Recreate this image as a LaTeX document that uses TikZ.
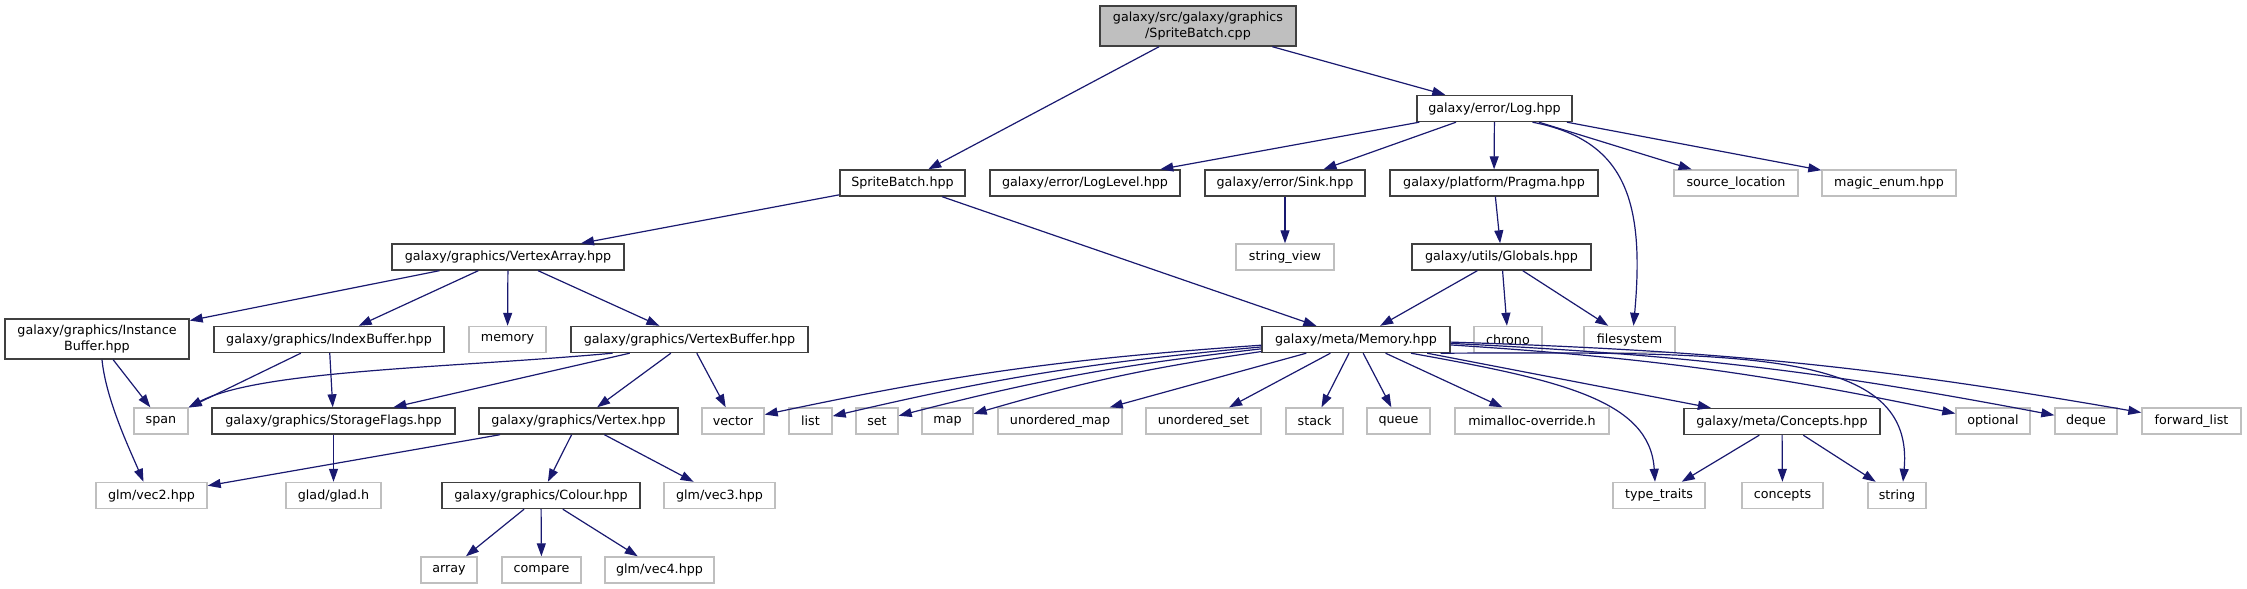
\documentclass[tikz,border=0pt]{standalone}
\usepackage{fontspec}
\setmainfont{DejaVu Sans}
\usepackage{xcolor}
\usetikzlibrary{arrows.meta, positioning}

\definecolor{edgeblue}{HTML}{191970}
\tikzset{
    hdr/.style={draw=black!75, line width=1.4pt, fill=white, minimum height=26pt,
        inner sep=0pt, font=\fontsize{12.7}{15.5}\selectfont},
    sys/.style={hdr, draw=black!25},
    root/.style={hdr, fill=black!25},
    dep/.style={->, draw=edgeblue, line width=1.2pt},
}

\begin{document}
\begin{tikzpicture}[x=1pt, y=-1pt, >={Triangle[length=13pt, width=9pt]}]
    \useasboundingbox (0,0) rectangle (2247,589);

    % Tệp gốc
    \node[root, minimum width=196, minimum height=40, align=center] (cpp) at (1198,26)
        {galaxy/src/galaxy/graphics\\/SpriteBatch.cpp};
    \node[hdr, minimum width=155] (log) at (1494.5,108.5) {galaxy/error/Log.hpp};

    % Hàng 3
    \node[hdr, minimum width=125] (sbhpp) at (902.5,183) {SpriteBatch.hpp};
    \node[hdr, minimum width=190] (loglevel) at (1085,183) {galaxy/error/LogLevel.hpp};
    \node[hdr, minimum width=160] (sink) at (1285,183) {galaxy/error/Sink.hpp};
    \node[hdr, minimum width=208] (pragma) at (1494,183) {galaxy/platform/Pragma.hpp};
    \node[sys, minimum width=124] (srcloc) at (1736,183) {source\_location};
    \node[sys, minimum width=134] (magic) at (1889,183) {magic\_enum.hpp};

    % Hàng 4
    \node[hdr, minimum width=232] (varray) at (508,257) {galaxy/graphics/VertexArray.hpp};
    \node[sys, minimum width=98] (strview) at (1285,257) {string\_view};
    \node[hdr, minimum width=179] (globals) at (1501.5,257) {galaxy/utils/Globals.hpp};

    % Hàng 5
    \node[hdr, minimum width=184, minimum height=40, align=center] (instbuf) at (97,339)
        {galaxy/graphics/Instance\\Buffer.hpp};
    \node[hdr, minimum width=230] (idxbuf) at (329,339.5) {galaxy/graphics/IndexBuffer.hpp};
    \node[sys, minimum width=77] (memory) at (507.5,339.5) {memory};
    \node[hdr, minimum width=237] (vbuf) at (689.5,339.5) {galaxy/graphics/VertexBuffer.hpp};
    \node[hdr, minimum width=188] (memhpp) at (1356,339.5) {galaxy/meta/Memory.hpp};
    \node[sys, minimum width=68] (chrono) at (1508,339.5) {chrono};
    \node[sys, minimum width=91] (fsys) at (1629.5,339.5) {filesystem};

    % Hàng 6
    \node[sys, minimum width=54] (span) at (161,421) {span};
    \node[hdr, minimum width=243] (storage) at (333.5,421) {galaxy/graphics/StorageFlags.hpp};
    \node[hdr, minimum width=199] (vertex) at (578.5,421) {galaxy/graphics/Vertex.hpp};
    \foreach \n/\x/\w/\t in {vector/733/62/vector, list/810.5/43/list, set/877/42/set,
        map/947.5/51/map, umap/1060/124/unordered\_map, uset/1203.5/115/unordered\_set,
        stack/1314.5/57/stack, queue/1398.5/63/queue, mimalloc/1532/154/mimalloc-override.h,
        optional/1993/74/optional, deque/2086/62/deque, fwdlist/2191.5/99/forward\_list} {
        \node[sys, minimum width=\w] (\n) at (\x,421) {\t};
    }
    \node[hdr, minimum width=196] (concepthpp) at (1782,421.5) {galaxy/meta/Concepts.hpp};

    % Hàng 7
    \node[sys, minimum width=111] (vec2) at (151.5,495.5) {glm/vec2.hpp};
    \node[sys, minimum width=95] (glad) at (333.5,495.5) {glad/glad.h};
    \node[hdr, minimum width=198] (colour) at (541,495.5) {galaxy/graphics/Colour.hpp};
    \node[sys, minimum width=111] (vec3) at (719.5,495.5) {glm/vec3.hpp};
    \node[sys, minimum width=92] (traits) at (1659,495.5) {type\_traits};
    \node[sys, minimum width=81] (concepts) at (1782.5,495.5) {concepts};
    \node[sys, minimum width=58] (string) at (1897,495.5) {string};

    % Hàng 8
    \node[sys, minimum width=56] (array) at (449,570) {array};
    \node[sys, minimum width=79] (compare) at (541.5,570) {compare};
    \node[sys, minimum width=109] (vec4) at (659.5,570) {glm/vec4.hpp};

    % Các cạnh phụ thuộc
    \draw[dep] (cpp) -- (sbhpp);
    \draw[dep] (cpp) -- (log);
    \foreach \n in {loglevel,sink,pragma,srcloc,magic} {
        \draw[dep] (log) -- (\n);
    }
    \draw[dep] ([xshift=38]log.south) .. controls (1625,140) and (1645,200) .. ([xshift=4]fsys.north);
    \draw[dep] (sbhpp) -- (varray);
    \draw[dep] (sbhpp) -- (memhpp);
    \draw[dep] (sink) -- (strview);
    \draw[dep] (pragma) -- (globals);
    \foreach \n in {memhpp,chrono,fsys} {
        \draw[dep] (globals) -- (\n);
    }
    \foreach \n in {instbuf,idxbuf,memory,vbuf} {
        \draw[dep] (varray) -- (\n);
    }
    \draw[dep] (instbuf) -- (span);
    \draw[dep] ([xshift=5]instbuf.south) .. controls (106,400) and (130,450) .. ([xshift=-8]vec2.north);
    \draw[dep] (idxbuf) -- (span);
    \draw[dep] (idxbuf) -- (storage);
    \draw[dep] ([xshift=-77]vbuf.south) .. controls (450,368) and (260,370) .. (span.north east);
    \foreach \n in {storage,vertex,vector} {
        \draw[dep] (vbuf) -- (\n);
    }

    % Memory.hpp
    \foreach \n in {vector,list,set,map} {
        \draw[dep] (memhpp) to[bend right=4] (\n);
    }
    \foreach \n in {umap,uset,stack,queue,mimalloc,concepthpp} {
        \draw[dep] (memhpp) -- (\n);
    }
    \foreach \n in {optional,deque,fwdlist} {
        \draw[dep] (memhpp) to[bend left=4] (\n);
    }
    \draw[dep] ([xshift=55]memhpp.south) .. controls (1560,380) and (1650,400) .. ([xshift=-4]traits.north);
    \draw[dep] ([xshift=-10]memhpp.south east) .. controls (1750,352) and (1915,350) .. ([xshift=6]string.north);

    \draw[dep] (storage) -- (glad);
    \foreach \n in {vec2,colour,vec3} {
        \draw[dep] (vertex) -- (\n);
    }
    \foreach \n in {array,compare,vec4} {
        \draw[dep] (colour) -- (\n);
    }
    \foreach \n in {traits,concepts,string} {
        \draw[dep] (concepthpp) -- (\n);
    }
\end{tikzpicture}
\end{document}
